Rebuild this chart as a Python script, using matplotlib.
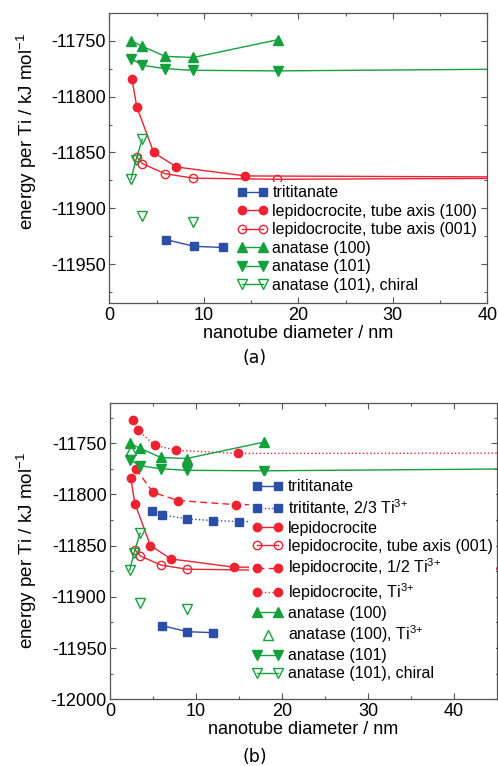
import matplotlib
matplotlib.use("Agg")
import matplotlib.pyplot as plt
from matplotlib.legend_handler import HandlerLine2D
from matplotlib.ticker import MultipleLocator

plt.rcParams['font.family'] = ['Liberation Sans', 'DejaVu Sans']
plt.rcParams['mathtext.fontset'] = 'custom'
plt.rcParams['mathtext.rm'] = 'Liberation Sans'
plt.rcParams['mathtext.it'] = 'Liberation Sans:italic'
plt.rcParams['axes.unicode_minus'] = False

RED = '#ee2230'
GREEN = '#14a03c'
BLUE = '#2b4fa8'
TI3 = 'Ti$^{\\mathregular{3{+}}}$'

# nanotube diameters (nm) and energies per Ti (kJ/mol)
trit_d = [6.0, 9.0, 12.0]
trit_e = [-11928, -11934, -11935]

trit23_d = [4.9, 6.0, 9.0, 12.0, 15.0]
trit23_e = [-11816, -11820, -11824, -11825.5, -11826.5]

lepi100_d = [2.4, 2.9, 4.7, 7.1, 14.4]
lepi100_e = [-11784, -11809, -11850, -11863, -11871]

lepi001_d = [2.9, 3.5, 5.9, 8.9, 17.7]
lepi001_e = [-11854, -11860, -11869, -11873, -11874]

lepi_half_d = [3.0, 5.0, 7.9, 14.6]
lepi_half_e = [-11775, -11798, -11806, -11810]

lepi_ti3_d = [2.7, 3.2, 5.2, 7.7, 14.9]
lepi_ti3_e = [-11727, -11737, -11752, -11757, -11760]

ana100_d = [2.3, 3.5, 5.9, 8.9, 17.9]
ana100_e = [-11750, -11755, -11764, -11765, -11749]

ana100_ti3_d = [2.4]
ana100_ti3_e = [-11756.5]

ana101_d = [2.3, 3.5, 5.9, 8.9, 17.9]
ana101_e = [-11766, -11772, -11775, -11776.5, -11777]

chiral_d = [2.3, 2.8, 3.5]
chiral_e = [-11874, -11857, -11838]
chiral_extra_d = [3.5, 8.9]
chiral_extra_e = [-11906.5, -11912]

# bulk (large-diameter) limits
bulk_d = 60.0
bulk_lepi = -11872.5
bulk_ana101 = -11774.3
bulk_lepi_ti3 = -11759.7
bulk_lepi_half = -11810.5
bulk_trit23 = -11827.0

fig = plt.figure(figsize=(4.98, 7.66), dpi=100)
ax1 = fig.add_axes([0.2195, 0.604, 0.759, 0.3786])
ax2 = fig.add_axes([0.2209, 0.0871, 0.7771, 0.3872])

ms_c, ms_s, ms_t = 6.0, 5.3, 6.5
lw = 1.0


def style_axes(ax, xmax, ymin, ymax):
    ax.set_xlim(0, xmax)
    ax.set_ylim(ymin, ymax)
    ax.xaxis.set_major_locator(MultipleLocator(10))
    ax.xaxis.set_minor_locator(MultipleLocator(5))
    ax.yaxis.set_major_locator(MultipleLocator(50))
    ax.yaxis.set_minor_locator(MultipleLocator(25))
    ax.tick_params(which='both', direction='in', top=True, right=True,
                   color='#555555', labelsize=13, pad=2.5)
    ax.tick_params(which='major', length=4.5, width=0.8)
    ax.tick_params(which='minor', length=2.5, width=0.8)
    for s in ax.spines.values():
        s.set_color('#555555')
        s.set_linewidth(0.9)
    ax.set_xlabel('nanotube diameter / nm', fontsize=13, labelpad=1)
    ax.set_ylabel('energy per Ti / kJ mol$^{-1}$', fontsize=13.5)


# ---- panel (a) ----
ax1.plot(trit_d, trit_e, '-s', color=BLUE, ms=ms_s, lw=lw, label='trititanate')
ax1.plot(lepi100_d + [bulk_d], lepi100_e + [bulk_lepi], '-', color=RED, lw=lw)
ax1.plot(lepi100_d, lepi100_e, 'o', color=RED, ms=ms_c)
ax1.plot([], [], '-o', color=RED, ms=ms_c, lw=lw,
         label='lepidocrocite, tube axis (100)')
ax1.plot(lepi001_d + [bulk_d], lepi001_e + [bulk_lepi], '-', color=RED, lw=lw)
ax1.plot(lepi001_d, lepi001_e, 'o', color=RED, mfc='none', ms=ms_c)
ax1.plot([], [], '-o', color=RED, mfc='none', ms=ms_c, lw=lw,
         label='lepidocrocite, tube axis (001)')
ax1.plot(ana100_d, ana100_e, '-^', color=GREEN, ms=ms_t, lw=lw, label='anatase (100)')
ax1.plot(ana101_d + [bulk_d], ana101_e + [bulk_ana101], '-', color=GREEN, lw=lw)
ax1.plot(ana101_d, ana101_e, 'v', color=GREEN, ms=ms_t)
ax1.plot([], [], '-v', color=GREEN, ms=ms_t, lw=lw, label='anatase (101)')
ax1.plot(chiral_d, chiral_e, '-v', color=GREEN, mfc='none', ms=ms_t, lw=lw,
         label='anatase (101), chiral')
ax1.plot(chiral_extra_d, chiral_extra_e, 'v', color=GREEN, mfc='none', ms=ms_t)

style_axes(ax1, 40, -11985, -11725.5)
ax1.yaxis.set_label_coords(-0.186, 0.594)
leg1 = ax1.legend(loc='upper left', bbox_to_anchor=(0.33, 0.418), fontsize=11.5,
                  numpoints=2, handlelength=1.9, handletextpad=0.3,
                  labelspacing=0.22, borderpad=0.2, borderaxespad=0,
                  frameon=True, fancybox=False, framealpha=1,
                  facecolor='white', edgecolor='none')

# ---- panel (b) ----
ax2.plot(trit_d, trit_e, '-s', color=BLUE, ms=ms_s, lw=lw, label='trititanate')
ax2.plot(trit23_d + [bulk_d], trit23_e + [bulk_trit23], ':', color=BLUE, lw=lw)
ax2.plot(trit23_d, trit23_e, 's', color=BLUE, ms=ms_s)
ax2.plot([], [], ':s', color=BLUE, ms=ms_s, lw=lw,
         label='trititante, 2/3 ' + TI3)
ax2.plot(lepi100_d + [bulk_d], lepi100_e + [bulk_lepi], '-', color=RED, lw=lw)
ax2.plot(lepi100_d, lepi100_e, 'o', color=RED, ms=ms_c)
ax2.plot([], [], '-o', color=RED, ms=ms_c, lw=lw, label='lepidocrocite')
ax2.plot(lepi001_d + [bulk_d], lepi001_e + [bulk_lepi], '-', color=RED, lw=lw)
ax2.plot(lepi001_d, lepi001_e, 'o', color=RED, mfc='none', ms=ms_c)
ax2.plot([], [], '-o', color=RED, mfc='none', ms=ms_c, lw=lw,
         label='lepidocrocite, tube axis (001)')
ax2.plot(lepi_half_d + [bulk_d], lepi_half_e + [bulk_lepi_half], color=RED, lw=lw,
         dashes=(5, 3))
ax2.plot(lepi_half_d, lepi_half_e, 'o', color=RED, ms=ms_c)
ax2.plot([], [], 'o', ls=(0, (5, 3)), color=RED, ms=ms_c, lw=lw,
         label='lepidocrocite, 1/2 ' + TI3)
ax2.plot(lepi_ti3_d + [bulk_d], lepi_ti3_e + [bulk_lepi_ti3], ':', color=RED, lw=lw)
ax2.plot(lepi_ti3_d, lepi_ti3_e, 'o', color=RED, ms=ms_c)
ax2.plot([], [], ':o', color=RED, ms=ms_c, lw=lw, label='lepidocrocite, ' + TI3)
ax2.plot(ana100_d, ana100_e, '-^', color=GREEN, ms=ms_t, lw=lw, label='anatase (100)')
ti3_handle, = ax2.plot(ana100_ti3_d, ana100_ti3_e, '^', color=GREEN, mfc='none',
                       ms=ms_t, label='anatase (100), ' + TI3)
ax2.plot(ana101_d + [bulk_d], ana101_e + [bulk_ana101], '-', color=GREEN, lw=lw)
ax2.plot(ana101_d, ana101_e, 'v', color=GREEN, ms=ms_t)
ax2.plot([], [], '-v', color=GREEN, ms=ms_t, lw=lw, label='anatase (101)')
ax2.plot(chiral_d, chiral_e, '-v', color=GREEN, mfc='none', ms=ms_t, lw=lw,
         label='anatase (101), chiral')
ax2.plot(chiral_extra_d, chiral_extra_e, 'v', color=GREEN, mfc='none', ms=ms_t)

style_axes(ax2, 45, -12000, -11710.5)
ax2.yaxis.set_label_coords(-0.183, 0.5)
leg2 = ax2.legend(loc='upper left', bbox_to_anchor=(0.36, 0.752), fontsize=11.5,
                  numpoints=2, handlelength=1.9, handletextpad=0.3,
                  labelspacing=0.18, borderpad=0.2, borderaxespad=0,
                  frameon=True, fancybox=False, framealpha=1,
                  facecolor='white', edgecolor='none',
                  handler_map={ti3_handle: HandlerLine2D(numpoints=1)})

fig.text(255 / 498, 1 - 358 / 766, '(a)', ha='center', va='center',
         fontsize=12.5, family='DejaVu Sans')
fig.text(255 / 498, 1 - 757 / 766, '(b)', ha='center', va='center',
         fontsize=12.5, family='DejaVu Sans')

fig.savefig('out.png', dpi=100)
